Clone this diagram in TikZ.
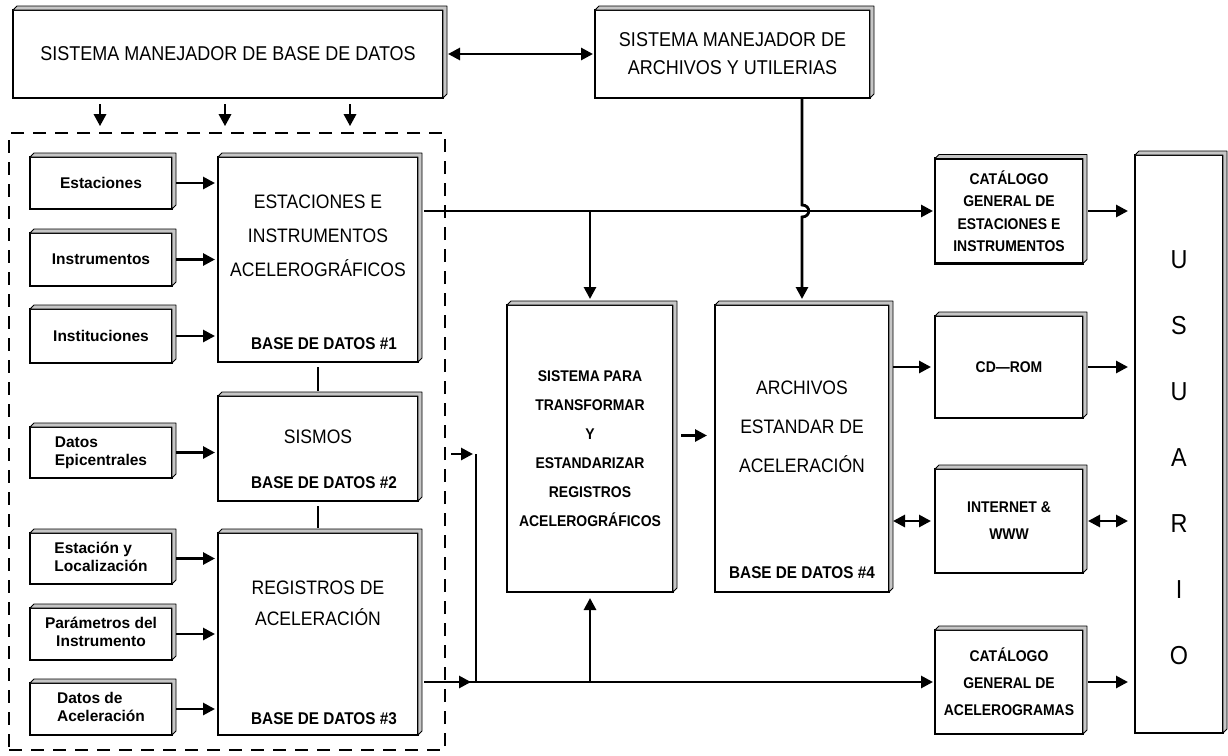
\documentclass[tikz,border=0pt]{standalone}
\usepackage{fontspec}
\setmainfont{Liberation Sans}
\newfontfamily\cadfont{Liberation Sans}[FakeStretch=0.9]
\newfontfamily\cadbfont{Liberation Sans}[FakeStretch=0.9]
\usetikzlibrary{arrows.meta,calc}
\tikzset{
  box/.style={draw, line width=2.2pt, fill=white, inner sep=0pt, outer sep=0pt, align=center},
  smallbox/.style={box, minimum width=142pt, font=\bfseries\fontsize{15.5}{19}\selectfont},
  mainbox/.style={box, minimum width=200pt},
  rbox/.style={box, minimum width=148pt, font=\cadbfont\bfseries\fontsize{15.5}{27}\selectfont},
  bigtxt/.style={inner sep=0pt, align=center, font=\cadfont\fontsize{19.5}{34}\selectfont},
  bdtxt/.style={inner sep=0pt, font=\cadbfont\bfseries\fontsize{17}{20}\selectfont},
  conn/.style={line width=2.8pt},
  arr/.style={conn, -{Triangle[length=12pt,width=12pt]}},
  darr/.style={conn, {Triangle[length=12pt,width=12pt]}-{Triangle[length=12pt,width=12pt]}},
  shadowpoly/.style={draw, line width=0.9pt, fill=gray!45, line join=round},
  grpbox/.style={draw, line width=1.6pt, dash pattern=on 13pt off 9pt, inner sep=0pt}
}
\begin{document}
\begin{tikzpicture}[x=1pt,y=-1pt]
\useasboundingbox (0,0) rectangle (1228,755);
\fill[white] (0,0) rectangle (1228,755);

% dashed group
\node[grpbox, minimum width=436pt, minimum height=617pt] (grp) at (227,441.5) {};

% top boxes
\node[box, minimum width=430pt, minimum height=88pt, font=\cadfont\fontsize{20}{27}\selectfont] (smbd) at (228,54) {SISTEMA MANEJADOR DE BASE DE DATOS};
\node[box, minimum width=275pt, minimum height=88pt, font=\cadfont\fontsize{20}{28}\selectfont] (smau) at (732.5,54) {SISTEMA MANEJADOR DE\\ARCHIVOS Y UTILERIAS};

% small input boxes
\node[smallbox, minimum height=52pt] (est) at (101,183) {Estaciones};
\node[smallbox, minimum height=53pt] (ins) at (101,259.5) {Instrumentos};
\node[smallbox, minimum height=54pt] (inst) at (101,336) {Instituciones};
\node[smallbox, minimum height=51pt] (dep) at (101,452.5) {\begin{tabular}{@{}l@{}}Datos\\[-1pt]Epicentrales\end{tabular}};
\node[smallbox, minimum height=51pt] (eyl) at (101,558.5) {\begin{tabular}{@{}l@{}}Estación y\\[-1pt]Localización\end{tabular}};
\node[smallbox, minimum height=52pt] (par) at (101,634) {\begin{tabular}{@{}c@{}}Parámetros del\\[-1pt]Instrumento\end{tabular}};
\node[smallbox, minimum height=52pt] (dac) at (101,709) {\begin{tabular}{@{}l@{}}Datos de\\[-1pt]Aceleración\end{tabular}};

% main database boxes
\node[mainbox, minimum height=205pt] (ei) at (318,259.5) {};
\node[bigtxt] (eiT) at (318,236) {ESTACIONES E\\INSTRUMENTOS\\ACELEROGRÁFICOS};
\node[bdtxt] (bd1) at (324,344) {BASE DE DATOS \#1};

\node[mainbox, minimum height=105pt] (sis) at (318,448.5) {};
\node[bigtxt] (sisT) at (318,437) {SISMOS};
\node[bdtxt] (bd2) at (324,483) {BASE DE DATOS \#2};

\node[mainbox, minimum height=202pt] (reg) at (318,634) {};
\node[bigtxt, font=\cadfont\fontsize{19.5}{31}\selectfont] (regT) at (318,603) {REGISTROS DE\\ACELERACIÓN};
\node[bdtxt] (bd3) at (324,719) {BASE DE DATOS \#3};

% middle boxes
\node[box, minimum width=166pt, minimum height=287pt, font=\cadbfont\bfseries\fontsize{15.5}{29}\selectfont] (spt) at (590,448.5)
  {SISTEMA PARA\\TRANSFORMAR\\Y\\ESTANDARIZAR\\REGISTROS\\ACELEROGRÁFICOS};
\node[box, minimum width=174pt, minimum height=287pt] (arch) at (802,448.5) {};
\node[bigtxt, font=\cadfont\fontsize{19.5}{39}\selectfont] (archT) at (802,427) {ARCHIVOS\\ESTANDAR DE\\ACELERACIÓN};
\node[bdtxt] (bd4) at (802,573) {BASE DE DATOS \#4};

% right boxes
\node[rbox, minimum height=105pt, font=\cadbfont\bfseries\fontsize{15.5}{22.5}\selectfont] (catE) at (1009,211) {CATÁLOGO\\GENERAL DE\\ESTACIONES E\\INSTRUMENTOS};
\node[rbox, minimum height=102pt] (cd) at (1009,367) {CD—ROM};
\node[rbox, minimum height=104pt] (inet) at (1009,521) {INTERNET \&\\WWW};
\node[rbox, minimum height=104pt] (catA) at (1009,682) {CATÁLOGO\\GENERAL DE\\ACELEROGRAMAS};

\node[box, minimum width=88pt, minimum height=578pt] (us) at (1179,444) {};
\node[inner sep=0pt, align=center, font=\cadfont\fontsize{26}{66}\selectfont] (usT) at (1179,458) {U\\S\\U\\A\\R\\I\\O};

% 3D strips on the boxes
\foreach \n in {smbd,smau,est,ins,inst,dep,eyl,par,dac,ei,sis,reg,spt,arch,catE,cd,inet,catA,us}{
  \draw[shadowpoly] (\n.north west) -- ++(4,-4) -- ([shift={(4,-4)}]\n.north east)
     -- ([shift={(4,-4)}]\n.south east) -- (\n.south east) -- (\n.north east) -- cycle;
}

% helper coordinates
\coordinate (d1) at (100,0);
\coordinate (d2) at (225,0);
\coordinate (d3) at (350,0);
\coordinate (vx) at (476,454);
\coordinate (vs) at (451,454);
\coordinate (jA) at ($(arch.north |- catE.west)+(0,-6)$);
\coordinate (jB) at ($(arch.north |- catE.west)+(0,6)$);

% top connectors
\draw[darr, shorten <=5pt, shorten >=2pt] (smbd.east) -- (smau.west);
\foreach \d in {d1,d2,d3}{
  \draw[arr, shorten <=6pt, shorten >=6pt] (smbd.south -| \d) -- (grp.north -| \d);
}

% inputs to databases
\foreach \s/\t in {est/ei, ins/ei, inst/ei, dep/sis, eyl/reg, par/reg, dac/reg}{
  \draw[arr, shorten <=4pt, shorten >=3pt] (\s.east) -- (\s.east -| \t.west);
}
\draw[conn, shorten <=5pt, shorten >=5pt] (ei.south) -- (sis.north);
\draw[conn, shorten <=5pt, shorten >=5pt] (sis.south) -- (reg.north);

% stations line
\draw[arr, shorten <=6pt, shorten >=2pt] (ei.east |- catE.west) -- (catE.west);
\draw[arr, shorten >=6pt] (spt.north |- catE.west) -- (spt.north);
\draw[arr, shorten >=6pt] (arch.north |- smau.south) -- (jA) .. controls +(9,0) and +(9,0) .. (jB) -- (arch.north);

% records line
\draw[arr, shorten <=6pt, shorten >=2pt] (reg.east |- catA.west) -- (catA.west);
\draw[arr, shorten <=6pt, shorten >=5pt] (reg.east |- catA.west) -- (vx |- catA.west);
\draw[conn] (vx) -- (vx |- catA.west);
\draw[arr, shorten >=3pt] (vs) -- (vx);
\draw[arr, shorten >=6pt] (spt.south |- catA.west) -- (spt.south);

% middle and right
\draw[arr, shorten <=8pt, shorten >=8pt] ([yshift=13pt]spt.east) -- ([yshift=13pt]spt.east -| arch.west);
\draw[arr, shorten <=4pt, shorten >=4pt] (arch.east |- cd.west) -- (cd.west);
\draw[darr, shorten <=4pt, shorten >=4pt] (arch.east |- inet.west) -- (inet.west);
\draw[arr, shorten <=5pt, shorten >=7pt] (catE.east) -- (catE.east -| us.west);
\draw[arr, shorten <=5pt, shorten >=7pt] (cd.east) -- (cd.east -| us.west);
\draw[darr, shorten <=5pt, shorten >=7pt] (inet.east) -- (inet.east -| us.west);
\draw[arr, shorten <=5pt, shorten >=7pt] (catA.east) -- (catA.east -| us.west);
\end{tikzpicture}
\end{document}
